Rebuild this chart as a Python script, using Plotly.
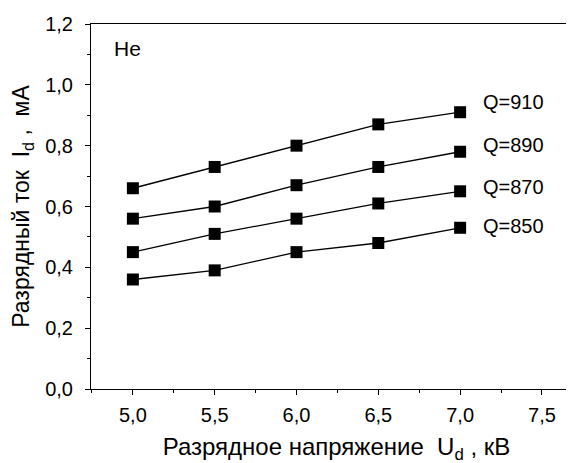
import plotly.graph_objects as go

voltage = [5.0, 5.5, 6.0, 6.5, 7.0]
q_labels = ["Q=910", "Q=890", "Q=870", "Q=850"]
current_910 = [0.66, 0.73, 0.80, 0.87, 0.91]
current_890 = [0.56, 0.60, 0.67, 0.73, 0.78]
current_870 = [0.45, 0.51, 0.56, 0.61, 0.65]
current_850 = [0.36, 0.39, 0.45, 0.48, 0.53]
series = [current_910, current_890, current_870, current_850]
label_y = [0.945, 0.803, 0.664, 0.535]

font = "Liberation Sans, Arial, sans-serif"
fig = go.Figure()
for ys in series:
    fig.add_trace(go.Scatter(
        x=voltage, y=ys, mode="lines+markers",
        line=dict(color="black", width=1.3),
        marker=dict(symbol="square", size=12, color="black"),
        showlegend=False,
    ))

for lab, ly in zip(q_labels, label_y):
    fig.add_annotation(x=7.125, y=ly, xref="x", yref="y", text=lab,
                       showarrow=False, xanchor="left", yanchor="middle",
                       font=dict(family=font, size=20, color="black"))
fig.add_annotation(x=4.87, y=1.12, xref="x", yref="y", text="He",
                   showarrow=False, xanchor="left", yanchor="middle",
                   font=dict(family=font, size=21, color="black"))

fig.update_layout(
    width=574, height=463,
    margin=dict(l=83, r=0, t=16, b=82),
    paper_bgcolor="white", plot_bgcolor="white",
    separators=", ",
    font=dict(family=font, size=20, color="black"),
    xaxis=dict(
        range=[4.744, 7.745], tickvals=[5.0, 5.5, 6.0, 6.5, 7.0, 7.5],
        tickformat=".1f", ticks="outside", ticklen=5, tickwidth=1, tickcolor="black",
        minor=dict(tickvals=[4.75, 5.25, 5.75, 6.25, 6.75, 7.25], ticks="outside", ticklen=3, tickcolor="black"),
        showline=True, linecolor="black", linewidth=1, mirror=True,
        showgrid=False, zeroline=False, automargin=False, ticklabelstandoff=3,
        title=dict(text="Разрядное напряжение  U<sub>d</sub> , кВ", standoff=13,
                   font=dict(family=font, size=24)),
        tickfont=dict(family=font, size=20),
    ),
    yaxis=dict(
        range=[0, 1.2], tickvals=[0, 0.2, 0.4, 0.6, 0.8, 1.0, 1.2],
        tickformat=".1f", ticks="outside", ticklen=5, tickwidth=1, tickcolor="black",
        minor=dict(tickvals=[0.1, 0.3, 0.5, 0.7, 0.9, 1.1], ticks="outside", ticklen=3, tickcolor="black"),
        showline=True, linecolor="black", linewidth=1, mirror=False,
        showgrid=False, zeroline=False, automargin=False, ticklabelstandoff=8,
        title=dict(text="Разрядный ток  I<sub>d</sub> ,  мА", standoff=12,
                   font=dict(family=font, size=23)),
        tickfont=dict(family=font, size=20),
    ),
)
fig.write_html("out.html")
